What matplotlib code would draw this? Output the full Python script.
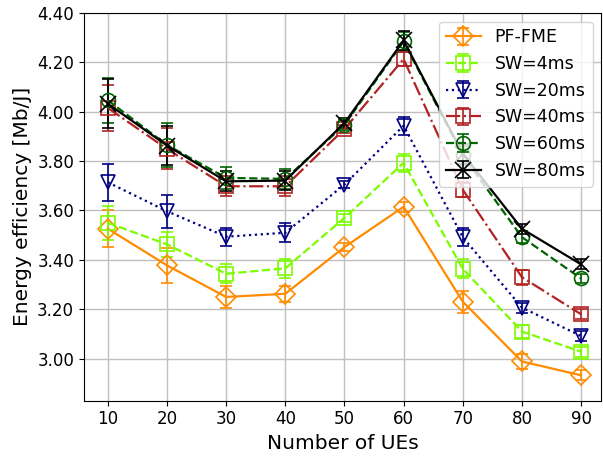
import matplotlib
matplotlib.use("Agg")
import matplotlib.pyplot as plt
from matplotlib.ticker import FormatStrFormatter

num_ues = [10, 20, 30, 40, 50, 60, 70, 80, 90]

pf_fme = [3.526, 3.378, 3.250, 3.263, 3.452, 3.615, 3.231, 2.989, 2.933]
sw_4 = [3.550, 3.463, 3.344, 3.366, 3.570, 3.793, 3.364, 3.110, 3.029]
sw_20 = [3.714, 3.597, 3.494, 3.510, 3.705, 3.943, 3.492, 3.207, 3.092]
sw_40 = [4.015, 3.849, 3.698, 3.698, 3.930, 4.213, 3.684, 3.330, 3.180]
sw_60 = [4.046, 3.865, 3.732, 3.728, 3.947, 4.284, 3.823, 3.492, 3.325]
sw_80 = [4.032, 3.863, 3.718, 3.721, 3.954, 4.288, 3.830, 3.526, 3.382]

err_pf_fme = [0.075, 0.070, 0.043, 0.033, 0.015, 0.020, 0.045, 0.030, 0.020]
err_sw_4 = [0.070, 0.050, 0.038, 0.039, 0.015, 0.036, 0.039, 0.025, 0.020]
err_sw_20 = [0.075, 0.067, 0.037, 0.038, 0.015, 0.036, 0.037, 0.020, 0.020]
err_sw_40 = [0.093, 0.083, 0.040, 0.040, 0.015, 0.030, 0.030, 0.030, 0.020]
err_sw_60 = [0.092, 0.090, 0.043, 0.040, 0.020, 0.040, 0.040, 0.025, 0.020]
err_sw_80 = [0.100, 0.080, 0.040, 0.040, 0.020, 0.040, 0.040, 0.020, 0.020]

series = [
    ("PF-FME", pf_fme, err_pf_fme, "darkorange", "-", "D"),
    ("SW=4ms", sw_4, err_sw_4, "lawngreen", "--", "s"),
    ("SW=20ms", sw_20, err_sw_20, "navy", ":", "v"),
    ("SW=40ms", sw_40, err_sw_40, "firebrick", "-.", "s"),
    ("SW=60ms", sw_60, err_sw_60, "darkgreen", "--", "o"),
    ("SW=80ms", sw_80, err_sw_80, "black", "-", "x"),
]

fig = plt.figure(figsize=(6.03, 4.58), dpi=100)
ax = fig.add_axes([0.139, 0.125, 0.858, 0.847])

for label, vals, err, color, ls, marker in series:
    ax.errorbar(num_ues, vals, yerr=err, label=label, color=color, linestyle=ls,
                linewidth=1.6, marker=marker, markersize=10 if marker != "x" else 11,
                fillstyle="none", markeredgewidth=1.2, capsize=4, elinewidth=1.2)

ax.set_xlim(5.94, 93.4)
ax.set_ylim(2.83, 4.40)
ax.set_xticks(num_ues)
ax.set_yticks([3.0, 3.2, 3.4, 3.6, 3.8, 4.0, 4.2, 4.4])
ax.yaxis.set_major_formatter(FormatStrFormatter("%.2f"))
ax.tick_params(labelsize=12)
ax.grid(True, color="#c0c0c0", linewidth=1.0)
ax.set_axisbelow(True)
ax.set_xlabel("Number of UEs", fontsize=14.5)
ax.set_ylabel("Energy efficiency [Mb/J]", fontsize=14.5)
ax.legend(loc="upper right", fontsize=12.5)

fig.savefig("out.png", dpi=100)
